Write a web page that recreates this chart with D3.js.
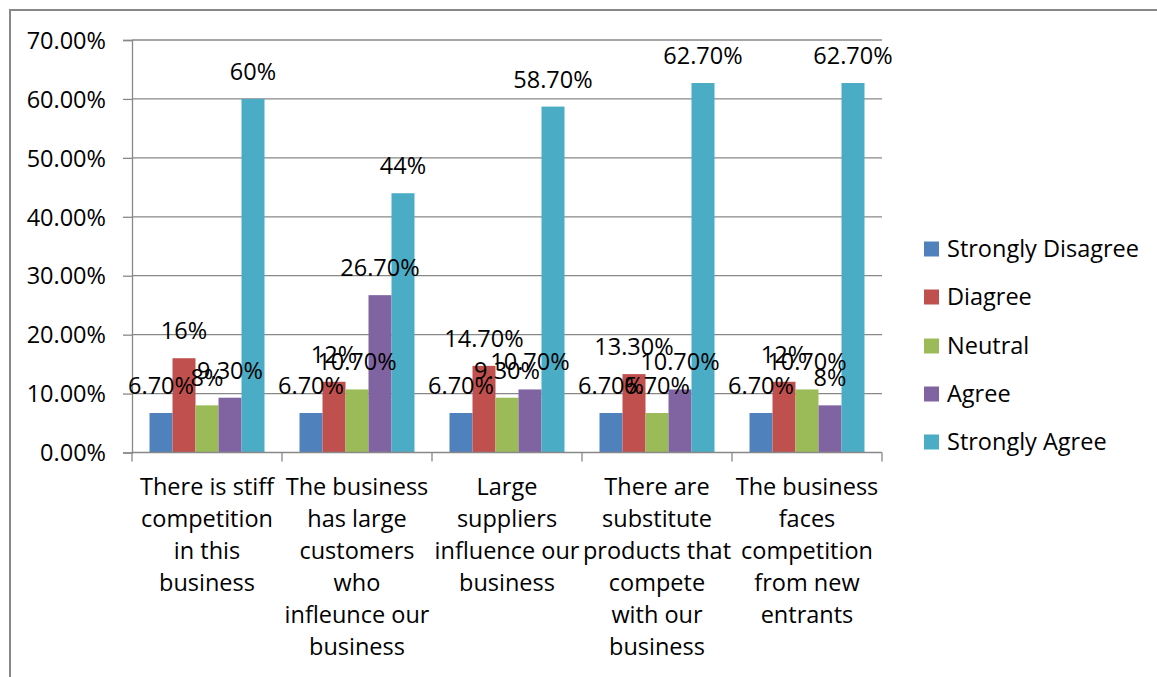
<!DOCTYPE html>
<html>
<head>
<meta charset="utf-8">
<script src="https://cdn.jsdelivr.net/npm/d3@7/dist/d3.min.js"></script>
<style>
  html, body { margin: 0; padding: 0; background: #fff; }
  svg { display: block; }
  text { font-family: "Open Sans", Lato, sans-serif; fill: #000; }
</style>
</head>
<body>
<svg id="chart" width="1157" height="677"></svg>
<script>
// ---- data ----
const categories = [
  "There is stiff\ncompetition\nin this\nbusiness",
  "The business\nhas large\ncustomers\nwho\ninfleunce our\nbusiness",
  "Large\nsuppliers\ninfluence our\nbusiness",
  "There are\nsubstitute\nproducts that\ncompete\nwith our\nbusiness",
  "The business\nfaces\ncompetition\nfrom new\nentrants"
];
const seriesNames = ["Strongly Disagree", "Diagree", "Neutral", "Agree", "Strongly Agree"];
const stronglyDisagree = [6.7, 6.7, 6.7, 6.7, 6.7];
const diagree = [16, 12, 14.7, 13.3, 12];
const neutral = [8, 10.7, 9.3, 6.7, 10.7];
const agree = [9.3, 26.7, 10.7, 10.7, 8];
const stronglyAgree = [60, 44, 58.7, 62.7, 62.7];
const labelsSD = ["6.70%", "6.70%", "6.70%", "6.70%", "6.70%"];
const labelsD = ["16%", "12%", "14.70%", "13.30%", "12%"];
const labelsN = ["8%", "10.70%", "9.30%", "6.70%", "10.70%"];
const labelsA = ["9.30%", "26.70%", "10.70%", "10.70%", "8%"];
const labelsSA = ["60%", "44%", "58.70%", "62.70%", "62.70%"];
const yTicks = [0, 10, 20, 30, 40, 50, 60, 70];
const colors = ["#4F81BD", "#C0504D", "#9BBB59", "#8064A2", "#4BACC6"];

const seriesValues = [stronglyDisagree, diagree, neutral, agree, stronglyAgree];
const seriesLabels = [labelsSD, labelsD, labelsN, labelsA, labelsSA];

// ---- layout ----
const svg = d3.select("#chart");
const plot = { left: 132, right: 882, top: 40, bottom: 452.5 };
const fontSize = 23.5;

// outer border
svg.append("rect")
  .attr("x", 10).attr("y", 10)
  .attr("width", 1160).attr("height", 700)
  .attr("fill", "none").attr("stroke", "#888").attr("stroke-width", 2);

const x0 = d3.scaleBand().domain(d3.range(categories.length))
  .range([plot.left, plot.right]).paddingInner(0).paddingOuter(0);
// band 150, bars 23 each => 17.5 px free on each side of a group
const x1 = d3.scaleBand().domain(d3.range(seriesNames.length))
  .range([17.5, x0.bandwidth() - 17.5]).paddingInner(0).paddingOuter(0);

const y = d3.scaleLinear().domain([0, 70]).range([plot.bottom, plot.top]);

// gridlines
svg.append("g").selectAll("line").data(yTicks.filter(t => t > 0)).join("line")
  .attr("x1", plot.left).attr("x2", plot.right)
  .attr("y1", d => y(d)).attr("y2", d => y(d))
  .attr("stroke", "#888").attr("stroke-width", 1.3);

// y axis
const yAxis = d3.axisLeft(y).tickValues(yTicks)
  .tickFormat(d => d.toFixed(2) + "%").tickSize(9).tickPadding(17);
const gy = svg.append("g").attr("transform", `translate(${plot.left},0)`).call(yAxis);
gy.select(".domain").attr("stroke", "#888").attr("stroke-width", 1.3);
gy.selectAll(".tick line").attr("stroke", "#888").attr("stroke-width", 1.3);
gy.selectAll(".tick text").attr("font-size", fontSize).attr("font-family", null)
  .attr("fill", "#000").attr("dy", "0.35em");

// bars
const groups = svg.append("g").selectAll("g").data(seriesValues).join("g")
  .attr("fill", (d, i) => colors[i]);
groups.each(function(vals, si) {
  d3.select(this).selectAll("rect").data(vals).join("rect")
    .attr("x", (v, ci) => x0(ci) + x1(si))
    .attr("width", x1.bandwidth())
    .attr("y", v => y(v))
    .attr("height", v => y(0) - y(v));
});

// x axis
const gx = svg.append("g").attr("transform", `translate(0,${plot.bottom})`);
gx.append("line").attr("x1", plot.left).attr("x2", plot.right)
  .attr("stroke", "#888").attr("stroke-width", 1.3);
gx.selectAll("line.tk").data(d3.range(categories.length + 1)).join("line")
  .attr("class", "tk")
  .attr("x1", i => plot.left + i * x0.bandwidth())
  .attr("x2", i => plot.left + i * x0.bandwidth())
  .attr("y1", 0).attr("y2", 9)
  .attr("stroke", "#888").attr("stroke-width", 1.3);

// category labels
const catG = svg.append("g");
categories.forEach((c, ci) => {
  const t = catG.append("text")
    .attr("text-anchor", "middle").attr("font-size", fontSize)
    .attr("x", x0(ci) + x0.bandwidth() / 2).attr("y", 495);
  c.split("\n").forEach((line, li) => {
    t.append("tspan").attr("x", x0(ci) + x0.bandwidth() / 2)
      .attr("y", 495 + li * 32).text(line);
  });
});

// data labels
const lblG = svg.append("g");
seriesValues.forEach((vals, si) => {
  lblG.selectAll(null).data(vals).join("text")
    .attr("text-anchor", "middle").attr("font-size", fontSize)
    .attr("x", (v, ci) => x0(ci) + x1(si) + x1.bandwidth() / 2)
    .attr("y", v => y(v) - 19)
    .text((v, ci) => seriesLabels[si][ci]);
});

// legend
const legY = [249, 297, 346, 394, 442];
const leg = svg.append("g");
seriesNames.forEach((n, i) => {
  leg.append("rect").attr("x", 924).attr("y", legY[i] - 7.5)
    .attr("width", 15).attr("height", 15).attr("fill", colors[i]);
  leg.append("text").attr("x", 947).attr("y", legY[i] + 8)
    .attr("font-size", fontSize).text(n);
});
</script>
</body>
</html>
